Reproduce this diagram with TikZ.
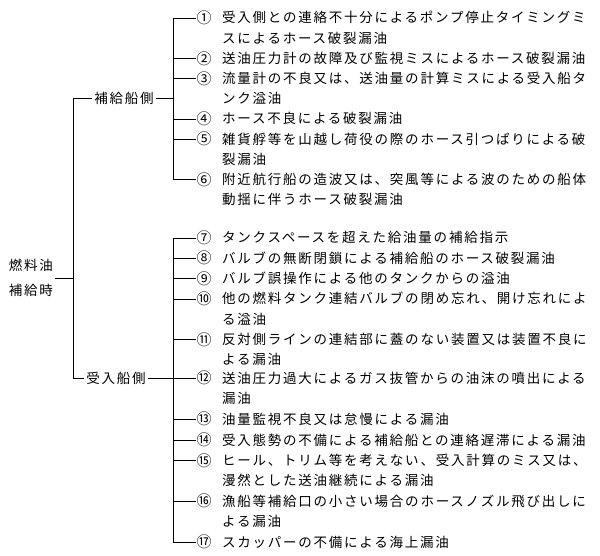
\documentclass[tikz,border=0pt]{standalone}
\usepackage{fontspec}
\newfontfamily\jpfont[LetterSpace=13]{Noto Sans CJK JP}
\newfontfamily\jpnum{Noto Sans CJK JP}
\usetikzlibrary{positioning}
\tikzset{
  itm/.style ={anchor=base west, inner sep=0pt, align=left, text width=390pt, font=\jpfont\fontsize{13.5}{20.3}\selectfont},
  num/.style ={inner sep=0.3pt, font=\jpnum\fontsize{15}{15}\selectfont},
  side/.style={inner sep=2pt, font=\jpfont\fontsize{13.5}{14}\selectfont},
  root/.style={inner sep=2pt, align=center, font=\jpfont\fontsize{13.5}{25}\selectfont},
  ln/.style  ={line width=0.8pt},
}
\begin{document}
\begin{tikzpicture}[x=1pt, y=-1pt]
  \useasboundingbox (0,0) rectangle (600,556);
  \coordinate (rv) at (73,0);
  \coordinate (bx) at (173,0);

  % root and the two sides
  \node[root] (fuel) at (31,278) {燃料油\\補給時};
  \node[side] (sup) at (124,98) {補給船側};
  \node[side] (rcv) at (116,378) {受入船側};

  % supply side items
  \node[num] (n1) at (204,18) {①};
  \node[itm] (t1) at (222,23) {受入側との連絡不十分によるポンプ停止タイミングミ\\スによるホース破裂漏油};
  \node[num] (n2) at (204,58.4) {②};
  \node[itm] (t2) at (222,63.4) {送油圧力計の故障及び監視ミスによるホース破裂漏油};
  \node[num] (n3) at (204,78.6) {③};
  \node[itm] (t3) at (222,83.6) {流量計の不良又は、送油量の計算ミスによる受入船タ\\ンク溢油};
  \node[num] (n4) at (204,119) {④};
  \node[itm] (t4) at (222,124) {ホース不良による破裂漏油};
  \node[num] (n5) at (204,139.2) {⑤};
  \node[itm] (t5) at (222,144.2) {雑貨艀等を山越し荷役の際のホース引つぱりによる破\\裂漏油};
  \node[num] (n6) at (204,179.6) {⑥};
  \node[itm] (t6) at (222,184.6) {附近航行船の造波又は、突風等による波のための船体\\動揺に伴うホース破裂漏油};

  % receiving side items
  \node[num] (n7) at (204,238) {⑦};
  \node[itm] (t7) at (222,243) {タンクスペースを超えた給油量の補給指示};
  \node[num] (n8) at (204,258.3) {⑧};
  \node[itm] (t8) at (222,263.3) {バルブの無断閉鎖による補給船のホース破裂漏油};
  \node[num] (n9) at (204,278.6) {⑨};
  \node[itm] (t9) at (222,283.6) {バルブ誤操作による他のタンクからの溢油};
  \node[num] (n10) at (204,298.9) {⑩};
  \node[itm] (t10) at (222,303.9) {他の燃料タンク連結バルブの閉め忘れ、開け忘れによ\\る溢油};
  \node[num] (n11) at (204,339.5) {⑪};
  \node[itm] (t11) at (222,344.5) {反対側ラインの連結部に蓋のない装置又は装置不良に\\よる漏油};
  \node[num] (n12) at (204,378) {⑫};
  \node[itm] (t12) at (222,383) {送油圧力過大によるガス抜管からの油沫の噴出による\\漏油};
  \node[num] (n13) at (204,419) {⑬};
  \node[itm] (t13) at (222,424) {油量監視不良又は怠慢による漏油};
  \node[num] (n14) at (204,440) {⑭};
  \node[itm] (t14) at (222,445) {受入態勢の不備による補給船との連絡遅滞による漏油};
  \node[num] (n15) at (204,460.5) {⑮};
  \node[itm] (t15) at (222,465.5) {ヒール、トリム等を考えない、受入計算のミス又は、\\漫然とした送油継続による漏油};
  \node[num] (n16) at (204,501) {⑯};
  \node[itm] (t16) at (222,506) {漁船等補給口の小さい場合のホースノズル飛び出しに\\よる漏油};
  \node[num] (n17) at (204,542) {⑰};
  \node[itm] (t17) at (222,547) {スカッパーの不備による海上漏油};

  % tree lines
  \draw[ln] (fuel.east) -- (fuel.east -| rv);
  \draw[ln] (sup.west) -- (sup.west -| rv) -- (rcv.west -| rv) -- (rcv.west);
  \draw[ln] (sup.east) -- (sup.east -| bx);
  \draw[ln] (rcv.east) -- (rcv.east -| bx);
  \draw[ln] (n1.west -| bx) -- (n6.west -| bx);
  \draw[ln] (n7.west -| bx) -- (n17.west -| bx);
  \draw[ln] (n1.west) -- (n1.west -| bx)  (n2.west) -- (n2.west -| bx)
            (n3.west) -- (n3.west -| bx)  (n4.west) -- (n4.west -| bx)
            (n5.west) -- (n5.west -| bx)  (n6.west) -- (n6.west -| bx);
  \draw[ln] (n7.west) -- (n7.west -| bx)  (n8.west) -- (n8.west -| bx)
            (n9.west) -- (n9.west -| bx)  (n10.west) -- (n10.west -| bx)
            (n11.west) -- (n11.west -| bx)  (n12.west) -- (n12.west -| bx)
            (n13.west) -- (n13.west -| bx)  (n14.west) -- (n14.west -| bx)
            (n15.west) -- (n15.west -| bx)  (n16.west) -- (n16.west -| bx)
            (n17.west) -- (n17.west -| bx);
\end{tikzpicture}
\end{document}
